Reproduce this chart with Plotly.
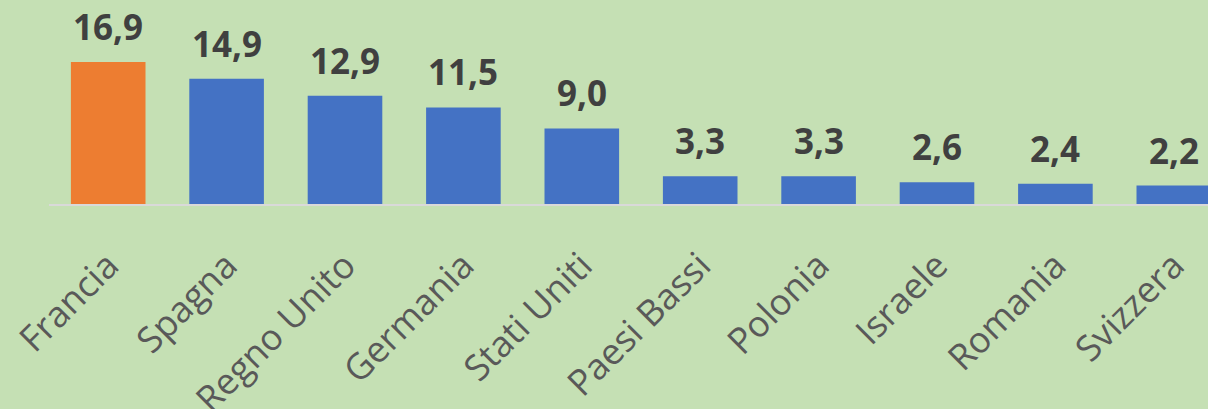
import plotly.graph_objects as go

countries = ["Francia", "Spagna", "Regno Unito", "Germania", "Stati Uniti",
             "Paesi Bassi", "Polonia", "Israele", "Romania", "Svizzera"]
values = [16.9, 14.9, 12.9, 11.5, 9.0, 3.3, 3.3, 2.6, 2.4, 2.2]
highlight = "Francia"

colors = ["#ED7D31" if c == highlight else "#4472C4" for c in countries]
labels = [f"{v:.1f}".replace(".", ",") for v in values]

fig = go.Figure(go.Bar(
    x=countries, y=values, marker=dict(color=colors, line=dict(width=0)),
    width=0.63,
))

for c, v, t in zip(countries, values, labels):
    fig.add_annotation(x=c, y=v, text=f"<b>{t}</b>", showarrow=False,
                       yanchor="bottom", yshift=10,
                       font=dict(family="Open Sans", size=35, color="#404040"))

W, H = 1208, 409
ml, mb = 49, 205
step = 118.4
fig.update_layout(
    width=W, height=H,
    margin=dict(l=ml, r=0, t=0, b=mb, autoexpand=False),
    paper_bgcolor="#C5E0B4", plot_bgcolor="#C5E0B4",
    showlegend=False,
    xaxis=dict(range=[-0.5, -0.5 + (W - ml) / step], tickangle=-45,
               automargin=False,
               showline=True, linecolor="#D9D9D9", linewidth=2,
               showgrid=False, ticks="", ticklabelstandoff=24,
               tickfont=dict(family="Open Sans", size=36, color="#595959")),
    yaxis=dict(range=[0, 204 / 8.4], visible=False, showgrid=False,
               automargin=False),
)

fig.write_html("out.html", config={"displayModeBar": False},
               post_script="document.body.style.margin='0';document.body.style.overflow='hidden';")
